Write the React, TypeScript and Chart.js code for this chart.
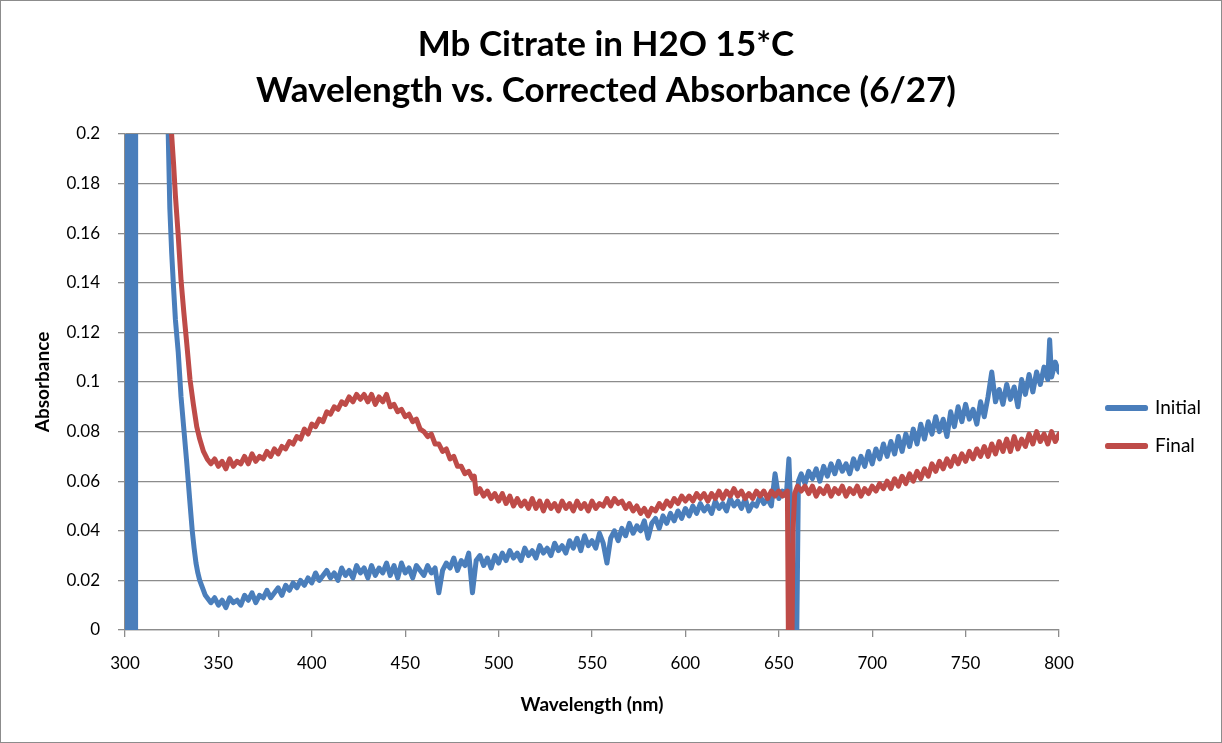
import { useEffect, useRef } from "react";
import { Chart, registerables } from "chart.js";

Chart.register(...registerables);

// ---------- data ----------
const titleLines = ["Mb Citrate in H2O 15*C", "Wavelength vs. Corrected Absorbance (6/27)"];
const seriesNames = ["Initial", "Final"];
const xAxisLabel = "Wavelength (nm)";
const yAxisLabel = "Absorbance";

const initialNm = [
  300, 300.5, 301, 301.5, 302, 302.5, 303, 303.5, 304, 304.5,
  305, 305.5, 306, 310, 315, 320, 322, 323, 324, 325,
  326, 327, 328.5, 330, 331.5, 333, 334.8, 336, 337, 338,
  339, 340, 341, 342, 343, 344, 346, 348, 350, 352,
  354, 356, 358, 360, 362, 364, 366, 368, 370, 372,
  374, 376, 378, 380, 382, 384, 386, 388, 390, 392,
  394, 396, 398, 400, 402, 404, 406, 408, 410, 412,
  414, 416, 418, 420, 422, 424, 426, 428, 430, 432,
  434, 436, 438, 440, 442, 444, 446, 448, 450, 452,
  454, 456, 458, 460, 462, 464, 466, 468, 470, 472,
  474, 476, 478, 480, 482, 484, 486, 488, 490, 492,
  494, 496, 498, 500, 502, 504, 506, 508, 510, 512,
  514, 516, 518, 520, 522, 524, 526, 528, 530, 532,
  534, 536, 538, 540, 542, 544, 546, 548, 550, 552,
  554, 556, 558, 560, 562, 564, 566, 568, 570, 572,
  574, 576, 578, 580, 582, 584, 586, 588, 590, 592,
  594, 596, 598, 600, 602, 604, 606, 608, 610, 612,
  614, 616, 618, 620, 622, 624, 626, 628, 630, 632,
  634, 636, 638, 640, 642, 644, 646, 648, 650, 652,
  654, 655.4, 656.2, 658.3, 659.5, 660.5, 662, 664, 666, 668,
  670, 672, 674, 676, 678, 680, 682, 684, 686, 688,
  690, 692, 694, 696, 698, 700, 702, 704, 706, 708,
  710, 712, 714, 716, 718, 720, 722, 724, 726, 728,
  730, 732, 734, 736, 738, 740, 742, 744, 746, 748,
  750, 752, 754, 756, 758, 760, 762, 764, 766, 768,
  770, 772, 774, 776, 778, 780, 782, 784, 786, 788,
  790, 792, 794, 795, 796, 798, 800,
];
const initialAbs = [
  2, -1, 2, -1, 2, -1, 2, -1, 2, -1,
  2, -1, 2, 1.5, 0.9, 0.4, 0.26, 0.205, 0.17, 0.152,
  0.138, 0.125, 0.112, 0.094, 0.081, 0.068, 0.051, 0.04, 0.033, 0.027,
  0.023, 0.02, 0.018, 0.016, 0.014, 0.013, 0.011, 0.013, 0.01, 0.012,
  0.009, 0.013, 0.011, 0.012, 0.01, 0.014, 0.012, 0.015, 0.011, 0.014,
  0.013, 0.016, 0.013, 0.015, 0.017, 0.014, 0.018, 0.016, 0.019, 0.017,
  0.02, 0.018, 0.021, 0.019, 0.023, 0.02, 0.022, 0.024, 0.021, 0.023,
  0.02, 0.025, 0.022, 0.024, 0.021, 0.026, 0.023, 0.025, 0.021, 0.026,
  0.022, 0.025, 0.023, 0.027, 0.022, 0.026, 0.021, 0.027, 0.023, 0.025,
  0.021, 0.026, 0.024, 0.022, 0.026, 0.023, 0.025, 0.015, 0.024, 0.027,
  0.025, 0.029, 0.024, 0.028, 0.026, 0.031, 0.015, 0.028, 0.03, 0.026,
  0.029, 0.025, 0.03, 0.027, 0.031, 0.028, 0.032, 0.029, 0.031, 0.028,
  0.033, 0.03, 0.032, 0.029, 0.034, 0.031, 0.033, 0.03, 0.035, 0.032,
  0.034, 0.031, 0.036, 0.033, 0.037, 0.032, 0.038, 0.034, 0.036, 0.033,
  0.039, 0.035, 0.027, 0.037, 0.04, 0.036, 0.041, 0.038, 0.043, 0.039,
  0.042, 0.04, 0.044, 0.037, 0.043, 0.045, 0.041, 0.046, 0.043, 0.047,
  0.044, 0.048, 0.045, 0.049, 0.046, 0.05, 0.047, 0.051, 0.048, 0.05,
  0.047, 0.052, 0.049, 0.051, 0.048, 0.053, 0.05, 0.052, 0.049, 0.053,
  0.048, 0.051, 0.05, 0.054, 0.051, 0.053, 0.05, 0.063, 0.053, 0.056,
  0.054, 0.069, 0.053, -0.01, -0.01, 0.06, 0.063, 0.059, 0.064, 0.061,
  0.065, 0.06, 0.066, 0.062, 0.067, 0.063, 0.068, 0.064, 0.067, 0.063,
  0.069, 0.065, 0.07, 0.066, 0.072, 0.067, 0.073, 0.069, 0.075, 0.07,
  0.076, 0.071, 0.078, 0.072, 0.079, 0.074, 0.081, 0.075, 0.083, 0.077,
  0.084, 0.079, 0.086, 0.08, 0.085, 0.078, 0.088, 0.082, 0.09, 0.084,
  0.091, 0.085, 0.089, 0.083, 0.092, 0.086, 0.094, 0.104, 0.092, 0.097,
  0.091, 0.099, 0.093, 0.098, 0.09, 0.101, 0.095, 0.103, 0.096, 0.104,
  0.099, 0.106, 0.101, 0.117, 0.102, 0.108, 0.104,
];

const finalNm = [
  300, 310, 318, 322, 324.5, 326, 327, 328.5, 330, 331.5,
  333, 334.8, 336.6, 338.4, 340, 342, 344, 346, 348, 350,
  352, 354, 356, 358, 360, 362, 364, 366, 368, 370,
  372, 374, 376, 378, 380, 382, 384, 386, 388, 390,
  392, 394, 396, 398, 400, 402, 404, 406, 408, 410,
  412, 414, 416, 418, 420, 422, 424, 426, 428, 430,
  432, 434, 436, 438, 440, 442, 444, 446, 448, 450,
  452, 454, 456, 458, 460, 462, 464, 466, 468, 470,
  472, 474, 476, 478, 480, 482, 484, 486, 487, 488,
  490, 492, 494, 496, 498, 500, 502, 504, 506, 508,
  510, 512, 514, 516, 518, 520, 522, 524, 526, 528,
  530, 532, 534, 536, 538, 540, 542, 544, 546, 548,
  550, 552, 554, 556, 558, 560, 562, 564, 566, 568,
  570, 572, 574, 576, 578, 580, 582, 584, 586, 588,
  590, 592, 594, 596, 598, 600, 602, 604, 606, 608,
  610, 612, 614, 616, 618, 620, 622, 624, 626, 628,
  630, 632, 634, 636, 638, 640, 642, 644, 646, 648,
  650, 652, 654.6, 655.2, 656.2, 657, 657.6, 658.5, 660, 662,
  664, 666, 668, 670, 672, 674, 676, 678, 680, 682,
  684, 686, 688, 690, 692, 694, 696, 698, 700, 702,
  704, 706, 708, 710, 712, 714, 716, 718, 720, 722,
  724, 726, 728, 730, 732, 734, 736, 738, 740, 742,
  744, 746, 748, 750, 752, 754, 756, 758, 760, 762,
  764, 766, 768, 770, 772, 774, 776, 778, 780, 782,
  784, 786, 788, 790, 792, 794, 796, 798, 800,
];
const finalAbs = [
  0.9, 0.6, 0.35, 0.25, 0.205, 0.188, 0.175, 0.159, 0.141, 0.128,
  0.116, 0.101, 0.091, 0.082, 0.077, 0.072, 0.069, 0.067, 0.069, 0.066,
  0.068, 0.065, 0.069, 0.066, 0.068, 0.067, 0.07, 0.067, 0.071, 0.068,
  0.07, 0.069, 0.072, 0.07, 0.073, 0.071, 0.074, 0.073, 0.076, 0.075,
  0.078, 0.077, 0.081, 0.079, 0.083, 0.082, 0.085, 0.084, 0.088, 0.087,
  0.09, 0.089, 0.092, 0.091, 0.094, 0.092, 0.095, 0.093, 0.095, 0.092,
  0.095, 0.091, 0.094, 0.092, 0.095, 0.09, 0.091, 0.088, 0.089, 0.086,
  0.087, 0.084, 0.085, 0.081, 0.08, 0.078, 0.079, 0.075, 0.075, 0.072,
  0.073, 0.069, 0.07, 0.066, 0.066, 0.063, 0.064, 0.061, 0.062, 0.055,
  0.057, 0.054, 0.056, 0.053, 0.055, 0.052, 0.055, 0.051, 0.054, 0.05,
  0.053, 0.05, 0.052, 0.049, 0.053, 0.049, 0.052, 0.048, 0.052, 0.049,
  0.051, 0.048, 0.052, 0.049, 0.051, 0.048, 0.052, 0.049, 0.051, 0.048,
  0.052, 0.049, 0.051, 0.05, 0.053, 0.05, 0.053, 0.051, 0.052, 0.049,
  0.051, 0.048, 0.05, 0.047, 0.049, 0.046, 0.049, 0.048, 0.051, 0.049,
  0.052, 0.05, 0.053, 0.051, 0.054, 0.052, 0.054, 0.052, 0.055, 0.053,
  0.055, 0.052, 0.055, 0.053, 0.056, 0.053, 0.056, 0.054, 0.057, 0.054,
  0.056, 0.053, 0.055, 0.053, 0.056, 0.054, 0.056, 0.053, 0.056, 0.054,
  0.056, 0.054, 0.056, -0.01, 0.034, -0.01, 0.04, 0.055, 0.058, 0.056,
  0.058, 0.055, 0.058, 0.054, 0.057, 0.055, 0.058, 0.054, 0.057, 0.055,
  0.058, 0.054, 0.057, 0.055, 0.058, 0.054, 0.057, 0.055, 0.058, 0.056,
  0.059, 0.057, 0.06, 0.057, 0.061, 0.058, 0.062, 0.059, 0.063, 0.06,
  0.064, 0.061, 0.065, 0.062, 0.067, 0.064, 0.068, 0.065, 0.069, 0.066,
  0.07, 0.067, 0.071, 0.068, 0.072, 0.069, 0.073, 0.07, 0.074, 0.07,
  0.075, 0.071, 0.076, 0.072, 0.077, 0.072, 0.078, 0.073, 0.077, 0.074,
  0.079, 0.075, 0.08, 0.076, 0.079, 0.075, 0.08, 0.076, 0.079,
];

const xMin = 300;
const xMax = 800;
const xStep = 50;
const yMin = 0;
const yMax = 0.2;
const yStep = 0.02;

// ---------- styles ----------
const BLUE = "#4a7ebb";
const RED = "#be4b48";
const GRID = "#8c8c8c";
const TEXT = "#000000";
const FONT = "Lato, 'Open Sans', sans-serif";

const W = 1220;
const H = 741;
const PLOT_LEFT = 124;
const PLOT_RIGHT = 1058;
const PLOT_BOTTOM = 629;
const LEGEND_PAD_RIGHT = 10;

export default function App() {
  const ref = useRef<HTMLCanvasElement>(null);

  useEffect(() => {
    const canvas = ref.current;
    if (!canvas) return;
    const toPts = (xs: number[], ys: number[]) => xs.map((x, i) => ({ x, y: ys[i] }));
    const chart = new Chart(canvas, {
      type: "line",
      data: {
        datasets: [
          {
            label: seriesNames[0],
            data: toPts(initialNm, initialAbs),
            borderColor: BLUE,
            backgroundColor: BLUE,
            borderWidth: 5,
            pointRadius: 0,
            tension: 0,
            clip: 0,
            order: 1,
            borderJoinStyle: "round",
            borderCapStyle: "round",
          },
          {
            label: seriesNames[1],
            data: toPts(finalNm, finalAbs),
            borderColor: RED,
            backgroundColor: RED,
            borderWidth: 5,
            pointRadius: 0,
            tension: 0,
            clip: 0,
            order: 0,
            borderJoinStyle: "round",
            borderCapStyle: "round",
          },
        ],
      },
      options: {
        animation: false,
        responsive: false,
        devicePixelRatio: 1,
        events: [],
        layout: { padding: { left: 0, top: 0, bottom: 0, right: LEGEND_PAD_RIGHT } },
        plugins: {
          title: {
            display: true,
            text: titleLines,
            color: TEXT,
            font: { family: FONT, size: 35, weight: "bold", lineHeight: 46 / 35 },
            padding: { top: 21, bottom: 20 },
          },
          legend: {
            position: "right",
            align: "center",
            title: {
              display: true,
              text: " ",
              font: { size: 11, lineHeight: 1 },
              padding: { top: 0, bottom: 100 },
            },
            labels: {
              boxWidth: 38,
              boxHeight: 1,
              padding: 19,
              color: TEXT,
              font: { family: FONT, size: 19 },
              sort: (a: any, b: any) => a.datasetIndex - b.datasetIndex,
            },
          },
          tooltip: { enabled: false },
        },
        scales: {
          x: {
            type: "linear",
            min: xMin,
            max: xMax,
            ticks: {
              stepSize: xStep,
              padding: 16,
              color: TEXT,
              font: { family: FONT, size: 17 },
            },
            grid: {
              drawOnChartArea: false,
              drawTicks: true,
              tickLength: 7,
              color: GRID,
              lineWidth: 1.3,
            },
            border: { color: GRID, width: 1.3 },
            title: {
              display: true,
              text: xAxisLabel,
              color: TEXT,
              font: { family: FONT, size: 19, weight: "bold" },
              padding: { top: 0, bottom: 26 },
            },
            afterFit: (s: any) => {
              s.height = H - PLOT_BOTTOM;
            },
          },
          y: {
            type: "linear",
            min: yMin,
            max: yMax,
            ticks: {
              stepSize: yStep,
              padding: 18,
              color: TEXT,
              font: { family: FONT, size: 17 },
              callback: (v: any) => String(Number(Number(v).toFixed(2))),
            },
            grid: {
              color: GRID,
              lineWidth: 1.3,
              tickLength: 7,
            },
            border: { color: GRID, width: 1.3 },
            title: {
              display: true,
              text: yAxisLabel,
              color: TEXT,
              font: { family: FONT, size: 19, weight: "bold" },
              padding: { top: 30, bottom: 0 },
            },
            afterFit: (s: any) => {
              s.width = PLOT_LEFT;
            },
          },
          y2: {
            type: "linear",
            position: "right",
            display: true,
            min: yMin,
            max: yMax,
            grid: { display: false },
            ticks: { display: false },
            border: { display: false },
            afterFit: (s: any) => {
              const lw = s.chart.legend ? s.chart.legend.width : 0;
              s.width = Math.max(0, W - LEGEND_PAD_RIGHT - PLOT_RIGHT - lw);
            },
          },
        },
      },
    } as any);
    return () => chart.destroy();
  }, []);

  return (
    <div
      style={{
        position: "fixed",
        left: 0,
        top: 0,
        width: 1222,
        height: 743,
        boxSizing: "border-box",
        border: "1px solid #8c8c8c",
        background: "#ffffff",
      }}
    >
      <canvas ref={ref} width={W} height={H} style={{ display: "block", width: W, height: H }} />
    </div>
  );
}
